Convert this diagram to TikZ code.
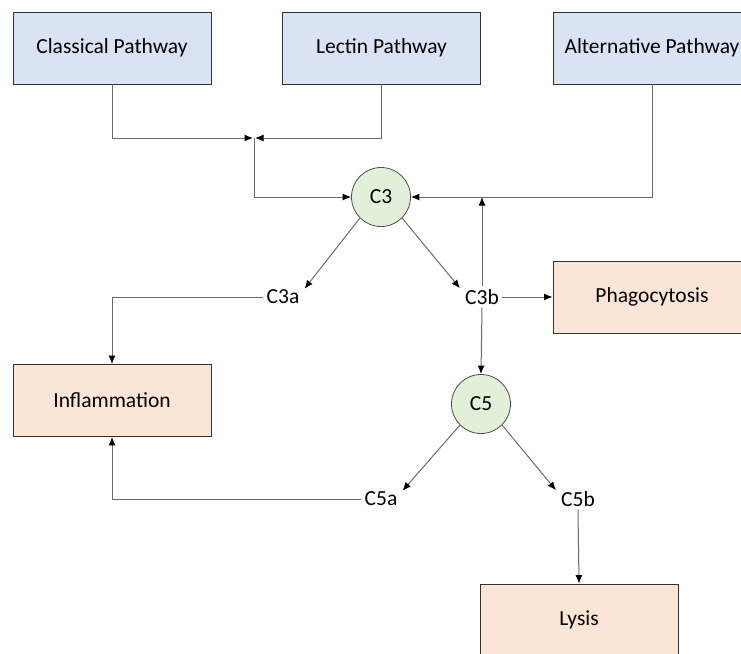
\documentclass[tikz,border=0pt]{standalone}
\usepackage{fontspec}
\setmainfont{Carlito}
\usetikzlibrary{arrows.meta}
\definecolor{pblue}{HTML}{DAE3F3}
\definecolor{porange}{HTML}{FBE5D6}
\definecolor{pgreen}{HTML}{E2F0D9}
\definecolor{lgray}{HTML}{6A6A6A}
\tikzset{
  x=1pt,y=-1pt,
  every node/.style={font=\fontsize{21.5}{24}\selectfont},
  pathbox/.style={draw=black!80,line width=0.9pt,fill=pblue,minimum width=198pt,minimum height=72pt,inner sep=0pt},
  outbox/.style={draw=black!80,line width=0.9pt,fill=porange,minimum width=198pt,minimum height=72pt,inner sep=0pt},
  comp/.style={circle,draw=black!70,line width=0.8pt,fill=pgreen,minimum size=59pt,inner sep=0pt},
  frag/.style={inner sep=3pt},
  conn/.style={draw=lgray,line width=1pt,-{Latex[length=8.5pt,width=7pt,color=black]}}
}
\begin{document}
\begin{tikzpicture}
\useasboundingbox (0,0) rectangle (741,653);
\clip (0,0) rectangle (741,653);
\node[pathbox] (cp) at (112,48) {Classical Pathway};
\node[pathbox] (lp) at (381.5,48) {Lectin Pathway};
\node[pathbox] (ap) at (652,48) {Alternative Pathway};
\node[comp] (c3) at (381,197) {C3};
\node[frag] (c3a) at (283,297) {C3a};
\node[frag] (c3b) at (482,297) {C3b};
\node[outbox] (ph) at (652,297) {Phagocytosis};
\node[outbox] (inf) at (112,400.5) {Inflammation};
\node[comp] (c5) at (481,404) {C5};
\node[frag] (c5a) at (381,499) {C5a};
\node[frag] (c5b) at (578,499) {C5b};
\node[outbox] (ly) at (579,620) {Lysis};
\coordinate (j) at (254,138);
\coordinate (jr) at (482,197);
% pathways to junction
\draw[conn] (cp.south) |- ([xshift=-1pt]j);
\draw[conn] (lp.south) |- ([xshift=1pt]j);
\draw[conn] (j) |- (c3.west);
\draw[conn] (ap.south) |- (c3.east);
% C3 cleavage
\draw[conn] (c3.225) -- ([xshift=2pt,yshift=-2pt]c3a.north east);
\draw[conn] (c3.315) -- ([xshift=-2pt,yshift=-2pt]c3b.north west);
\draw[conn] (c3b.north) -- (jr);
\draw[conn] (c3b.east) -- (ph.west);
\draw[conn] (c3a.west) -| (inf.north);
\draw[conn] (c3b.south) -- (c5.north);
% C5 cleavage
\draw[conn] (c5.225) -- ([xshift=2pt,yshift=-2pt]c5a.north east);
\draw[conn] (c5.315) -- ([xshift=-2pt,yshift=-2pt]c5b.north west);
\draw[conn] (c5a.west) -| (inf.south);
\draw[conn] (c5b.south) -- (ly.north);
\end{tikzpicture}
\end{document}
